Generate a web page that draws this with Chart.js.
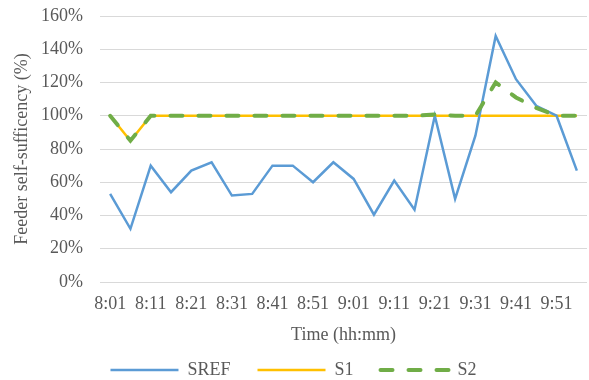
<!DOCTYPE html>
<html>
<head>
<meta charset="utf-8">
<script src="https://cdn.jsdelivr.net/npm/chart.js@4"></script>
<style>
  html, body { margin: 0; padding: 0; background: #fff; }
  #wrap { width: 589px; height: 380px; }
</style>
</head>
<body>
<div id="wrap"><canvas id="chart"></canvas></div>
<script>
const times = ['8:01','8:06','8:11','8:16','8:21','8:26','8:31','8:36','8:41','8:46','8:51','8:56',
               '9:01','9:06','9:11','9:16','9:21','9:26','9:31','9:36','9:41','9:46','9:51','9:56'];
const shownTicks = ['8:01','8:11','8:21','8:31','8:41','8:51','9:01','9:11','9:21','9:31','9:41','9:51'];

const sref = [53, 32, 70, 54, 67, 72, 52, 53, 70, 70, 60, 72,
              62, 40.5, 61, 43.5, 100, 50, 88, 148, 122, 106, 100, 67];
const s1 = [100, 85, 100, 100, 100, 100, 100, 100, 100, 100, 100, 100,
            100, 100, 100, 100, 100, 100, 100, 100, 100, 100, 100, 100];
const s2 = [100, 85, 100, 100, 100, 100, 100, 100, 100, 100, 100, 100,
            100, 100, 100, 100, 100.7, 100, 100, 120, 111, 104.7, 100, 100];

const grey = '#595959';
const font = { family: 'Liberation Serif', size: 18 };

new Chart(document.getElementById('chart'), {
  type: 'line',
  data: {
    labels: times,
    datasets: [
      { label: 'SREF', data: sref, borderColor: '#5B9BD5', backgroundColor: '#5B9BD5', borderWidth: 2.5, order: 1 },
      { label: 'S1', data: s1, borderColor: '#FFC000', backgroundColor: '#FFC000', borderWidth: 2.5, order: 2 },
      { label: 'S2', data: s2, borderColor: '#70AD47', backgroundColor: '#70AD47', borderWidth: 4,
        borderDash: [12, 16], borderCapStyle: 'round', order: 0 }
    ]
  },
  options: {
    responsive: true,
    maintainAspectRatio: false,
    animation: false,
    layout: { padding: { top: 16, right: 2, left: 0, bottom: 0 } },
    elements: { point: { radius: 0 }, line: { tension: 0 } },
    plugins: {
      tooltip: { enabled: false },
      legend: {
        position: 'bottom',
        maxHeight: 46,
        labels: {
          usePointStyle: true,
          pointStyle: 'line',
          pointStyleWidth: 68,
          padding: 27,
          color: grey,
          font: font,
          sort: (a, b) => a.datasetIndex - b.datasetIndex,
          // point style drops the dash, so copy it back from the dataset
          generateLabels: (chart) => {
            const items = Chart.defaults.plugins.legend.labels.generateLabels(chart);
            items.forEach(item => {
              const ds = chart.data.datasets[item.datasetIndex];
              item.lineDash = ds.borderDash || [];
              item.lineCap = ds.borderCapStyle || 'butt';
              item.lineWidth = ds.borderWidth;
            });
            return items;
          }
        }
      }
    },
    scales: {
      x: {
        offset: true,
        grid: { display: false, drawTicks: false },
        border: { display: false },
        afterFit: (scale) => { scale.height = 52; },
        ticks: {
          autoSkip: false,
          maxRotation: 0,
          padding: 11,
          color: grey,
          font: font,
          callback: (v, i) => shownTicks.includes(times[i]) ? times[i] : ''
        },
        title: { display: true, text: 'Time (hh:mm)', color: grey, font: font, padding: { top: 0, bottom: -12 } }
      },
      y: {
        min: 0,
        max: 160,
        // invisible tick marks give the gap between labels and plot
        grid: { color: '#D9D9D9', lineWidth: 1, drawTicks: true, tickLength: 17, tickColor: 'rgba(0,0,0,0)' },
        border: { display: false },
        afterFit: (scale) => { scale.width = 100; },
        ticks: {
          stepSize: 20,
          padding: 0,
          color: grey,
          font: font,
          callback: (v) => v + '%'
        },
        title: { display: true, text: 'Feeder self-sufficency (%)', color: grey, font: font, padding: { top: 11, bottom: 0 } }
      }
    }
  }
});
</script>
</body>
</html>
